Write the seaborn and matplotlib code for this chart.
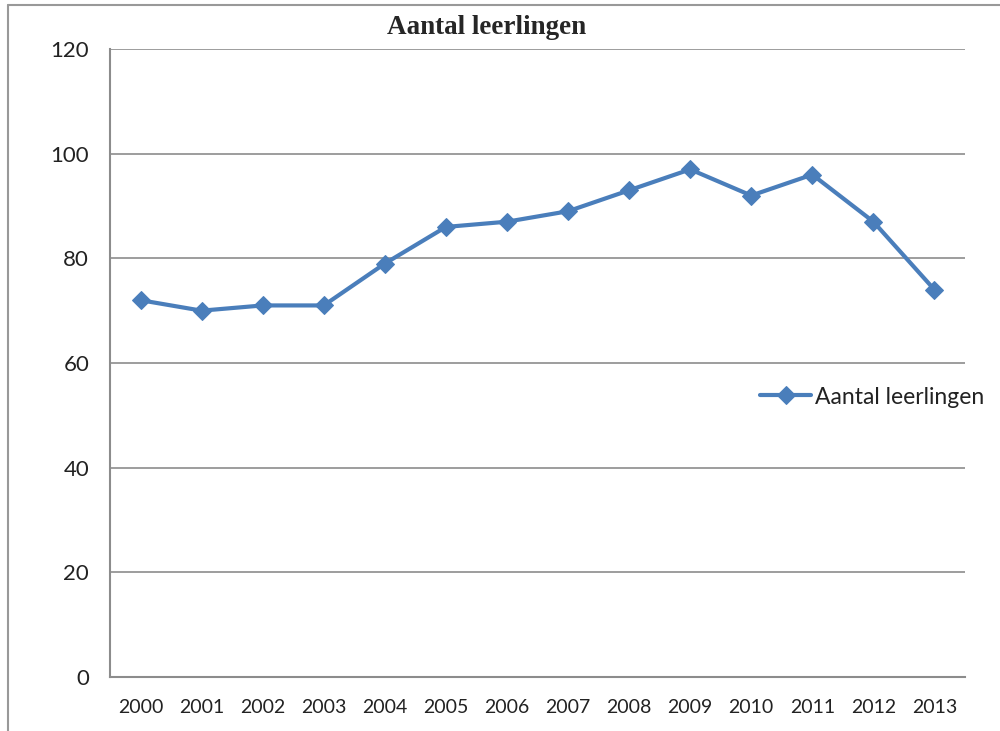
import seaborn as sns
import pandas as pd
import matplotlib
matplotlib.use('Agg')
import matplotlib.pyplot as plt
from matplotlib.lines import Line2D
from matplotlib.ticker import FixedLocator

years = ['2000', '2001', '2002', '2003', '2004', '2005', '2006',
         '2007', '2008', '2009', '2010', '2011', '2012', '2013']
leerlingen = [72, 70, 71, 71, 79, 86, 87, 89, 93, 97, 92, 96, 87, 74]
yticks = [0, 20, 40, 60, 80, 100, 120]
series_name = 'Aantal leerlingen'

df = pd.DataFrame({'jaar': years, 'aantal': leerlingen})
df['pos'] = range(len(years))

sns.set_style('white')
plt.rcParams['font.family'] = ['Lato', 'DejaVu Sans']

fig = plt.figure(figsize=(10, 7.31), dpi=100)
ax = fig.add_axes([0.110, 1 - 677 / 731, 0.855, (677 - 49) / 731])

blue = '#4a7ebb'
sns.lineplot(data=df, x='pos', y='aantal', ax=ax, color=blue, linewidth=3,
             marker='D', markersize=9, markeredgecolor=blue, label=series_name)

ax.set_xlim(-0.5, len(years) - 0.5)
ax.set_ylim(0, 120)
ax.set_yticks(yticks)
ax.set_yticklabels([str(t) for t in yticks], fontsize=16, color='#222222')
ax.set_xticks(df['pos'])
ax.set_xticklabels(years, fontsize=14, color='#222222')
ax.xaxis.set_minor_locator(FixedLocator([p - 0.5 for p in range(len(years) + 1)]))
ax.tick_params(axis='x', which='major', length=0, pad=16)
ax.tick_params(axis='x', which='minor', length=6, color='#888888', width=1.2, direction='out')
ax.tick_params(axis='y', length=7, color='#888888', width=1.2, direction='out', pad=8)
ax.yaxis.grid(True, color='#8c8c8c', linewidth=1.2)
ax.set_xlabel('')
ax.set_ylabel('')
for side in ['top', 'right']:
    ax.spines[side].set_visible(False)
for side in ['left', 'bottom']:
    ax.spines[side].set_color('#8c8c8c')
    ax.spines[side].set_linewidth(1.5)

leg = ax.legend(loc='center left', bbox_to_anchor=(0.75, 1 - (397 - 49) / 628),
                frameon=False, fontsize=16.5, handlelength=2.2, handletextpad=0.2,
                borderaxespad=0)
for t in leg.get_texts():
    t.set_color('#222222')

fig.text(0.487, 1 - 28 / 731, 'Aantal leerlingen', ha='center', va='center',
         fontsize=19.5, fontweight='bold', family=['Liberation Serif'])

# outer frame (top and left edge)
fig.add_artist(Line2D([0.008, 1.0], [1 - 5 / 731, 1 - 5 / 731], color='#999999', linewidth=1.5))
fig.add_artist(Line2D([0.008, 0.008], [0, 1 - 5 / 731], color='#999999', linewidth=1.5))

fig.savefig('out.png', dpi=100)
